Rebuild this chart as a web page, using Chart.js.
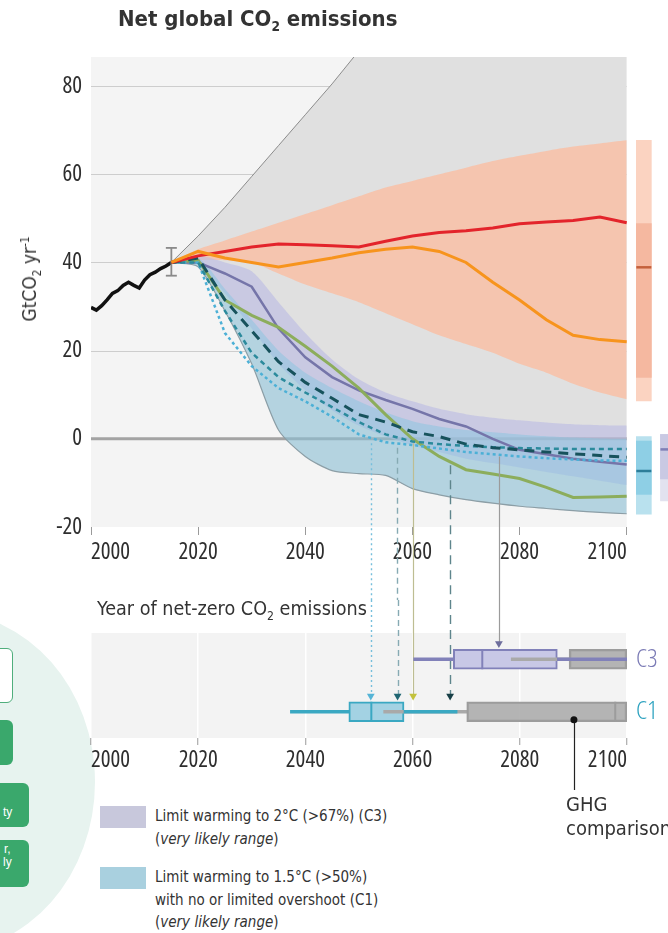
<!DOCTYPE html>
<html><head><meta charset="utf-8">
<script src="https://cdn.jsdelivr.net/npm/chart.js@4.4.0/dist/chart.umd.min.js"></script>
<style>
html,body{margin:0;padding:0;background:#fff;}
#wrap{position:relative;width:668px;height:933px;overflow:hidden;background:#fff;font-family:'DejaVu Sans Condensed','DejaVu Sans',sans-serif;color:#333;}
.abs{position:absolute;white-space:nowrap;}
sub,sup{font-size:62%;line-height:0;}
canvas{position:absolute;left:0;}
#cA{top:0;}
#cB{top:600px;}
.gbox{position:absolute;background:#3aa86c;border-radius:6px;color:#fff;font-size:12px;font-family:'Liberation Sans','DejaVu Sans',sans-serif;}
</style></head>
<body><div id="wrap">
<div class="abs" style="left:-205px;top:612px;width:300px;height:340px;border-radius:50%;background:#e7f3ef;"></div>
<div class="gbox" style="left:-10px;top:648px;width:21px;height:53px;background:#fff;border:1.5px solid #4fae7c;"></div>
<div class="gbox" style="left:-10px;top:720px;width:23px;height:45px;"></div>
<div class="gbox" style="left:-10px;top:783px;width:39px;height:44px;"><span class="abs" style="left:13px;top:22px;">ty</span></div>
<div class="gbox" style="left:-10px;top:840px;width:39px;height:47px;"><span class="abs" style="left:14px;top:2px;">r,</span><span class="abs" style="left:13px;top:15px;">ly</span></div>
<canvas id="cA" width="700" height="600"></canvas>
<canvas id="cB" width="700" height="200"></canvas>
<div class="abs" style="left:118px;top:6px;font-weight:bold;font-size:22px;color:#333;">Net global CO<sub>2</sub> emissions</div>
<div class="abs" style="left:29px;top:279px;transform:translate(-50%,-50%) rotate(-90deg);font-size:19px;">GtCO<sub>2</sub> yr<sup>-1</sup></div>
<div class="abs" style="left:97px;top:597px;font-size:19.6px;">Year of net-zero CO<sub>2</sub> emissions</div>
<div class="abs" style="left:566px;top:792px;font-size:20px;line-height:24px;">GHG<br>comparison</div>
<div class="abs" style="left:100px;top:806px;width:46px;height:22px;background:#c8c8dc;"></div>
<div class="abs" style="left:155px;top:805px;font-size:15px;line-height:22.5px;">Limit warming to 2°C (&gt;67%) (C3)<br>(<i>very likely range</i>)</div>
<div class="abs" style="left:100px;top:867px;width:46px;height:22px;background:#a9d0df;"></div>
<div class="abs" style="left:155px;top:866px;font-size:15px;line-height:22.5px;">Limit warming to 1.5°C (&gt;50%)<br>with no or limited overshoot (C1)<br>(<i>very likely range</i>)</div>
</div>
<script>
const FONT = "'Open Sans','DejaVu Sans Condensed',sans-serif";

// ---------- data: top panel ----------
const histYears = [2000,2001,2002,2003,2004,2005,2006,2007,2008,2009,2010,2011,2012,2013,2014,2015];
const histEmissions = [29.8,29.2,30.2,31.5,33.0,33.6,34.8,35.5,34.8,34.2,36.0,37.2,37.8,38.6,39.2,40.0];
const errorYear = 2015;
const errorRange = [37, 43.3];
const scenYears = [2015,2020,2025,2030,2035,2040,2045,2050,2055,2060,2065,2070,2075,2080,2085,2090,2095,2100];
const allScenariosHigh = [40,46,52.5,59.5,66.5,73.5,80.5,88,95,102,109,116,123,130,137,144,151,158];
const policiesHigh = [40,43,45,47,49,51,53,55,57,58.5,60,61.5,63,64.2,65.3,66.3,67,67.7];
const policiesLow = [40,40.5,40.5,40,37.5,35,33,31,28.5,26,23.5,21.5,19.5,17,15,12.5,10.5,9];
const policiesMedian = [40,41.5,42.5,43.5,44.2,44,43.8,43.5,44.8,46,46.8,47.2,47.8,48.8,49.2,49.5,50.3,49];
const moderatePath = [40,42.5,41,40,39,40,41,42.2,43,43.5,42.5,40,35.5,31.5,27,23.5,22.5,22];
const c3High = [40,41.5,40,38,31,24,18,13.5,10.5,8.5,6.8,5.6,4.8,4.2,3.7,3.3,3.1,3];
const c3Low = [40,39.5,33,25,17,11,6.5,3,0.5,-1.5,-3,-4.5,-5.5,-6.5,-7.5,-8.5,-9.5,-10.5];
const c3Median = [40,40,37.5,34.5,25,18.5,14,11,8.8,6.8,4.5,2.8,0,-2.5,-3.5,-4.5,-5.2,-5.8];
const c1High = [40,41,34,27,20,15,11.5,8.5,6,4,2.8,2,1.5,1,0.6,0.3,0.1,0];
const c1Low = [40,39,29,17,2,-4,-7.2,-7.9,-8.3,-11.3,-12.7,-13.8,-14.6,-15.3,-15.8,-16.3,-16.7,-17];
const greenPath = [40,40.5,31.5,28,25.3,21,16.5,11.5,5.5,0,-4,-7,-8,-9,-11,-13.3,-13.2,-13];
const longDashPath = [40,41,31.5,24.5,17.5,12.8,9.2,5.5,3.8,1.6,0.5,-1.2,-2,-2.5,-3,-3.4,-3.8,-4.2];
const shortDashPath = [40,40,29,19.5,14,10.5,7.2,3.8,1.0,-0.6,-1.2,-1.6,-1.9,-2.1,-2.2,-2.3,-2.3,-2.3];
const dottedPath = [40,40,24,16.5,11.5,8.5,5,1,-0.8,-1.4,-2.2,-3,-3.5,-4,-4.4,-4.7,-4.9,-5];
const policiesRange2100 = [8.6, 67.7];
const policiesCore2100 = [13.9, 48.8];
const policiesMedian2100 = 38.9;
const c1Range2100 = [-17.1, 0.5];
const c1Core2100 = [-12.6, -0.5];
const c1Median2100 = -7.3;
const c3Range2100 = [-14.1, 1.0];
const c3Core2100 = [-9.1, 1.0];
const c3Median2100 = -2.4;
const yTicks = [-20, 0, 20, 40, 60, 80];
const xTicks = [2000, 2020, 2040, 2060, 2080, 2100];

// ---------- data: net-zero panel ----------
const netZeroYears = [2052.2, 2057.2, 2060.1, 2067.0, 2076.1];
const netZeroRows = ['C1', 'C1', 'C1', 'C1', 'C3'];
const netZeroLineTop = [-1, -2, -1, -6, -4];
const c3Whisker = [2060.2, 2100];
const c3Box = [2067.6, 2087.0];
const c3BoxMedian = 2073.0;
const c3GhgWhisker = [2078.4, 2089.2];
const c3GhgBox = [2089.2, 2100];
const c1Whisker = [2037.2, 2068.3];
const c1Box = [2048.1, 2058.4];
const c1BoxMedian = 2052.3;
const c1GhgWhisker = [2054.6, 2070.1];
const c1GhgBox = [2070.1, 2100];
const c1GhgMedian = 2097.8;
const ghgMarkerYear = 2090.1;
const rowLabels = ['C1', 'C3'];

// ---------- layout / style constants ----------
const ROW = {C1: 1, C3: 3};
const MARK_OFFSET = 0.6;
const GHG_MARK_OFFSET = -0.3;
const SIDE_X = {policies: 2103.2, c1: 2103.2, c3: 2107.7};
const PX_PER_YEAR = (626.7 - 91) / 100;
const X_MAX_A = 2000 + (700 - 91) / PX_PER_YEAR;
const TICK_FONT = {family: FONT, size: 23, weight: 'condensed'};
const dropStyles = [
  {color:'#76bfdc', dash:[2,3], width:1.4},
  {color:'#86aab3', dash:[6,4], width:1.4},
  {color:'#bdbd92', dash:[], width:1.2},
  {color:'#5e858c', dash:[9,6], width:1.4},
  {color:'#9b9b9b', dash:[], width:1.2}
];
const markerColors = ['#55b4d6', '#1f6572', '#c3c23c', '#173f46', '#6d6d9c'];

const xy = (xs, ys) => ys.map((v, i) => ({x: xs[i], y: v}));
const lineDS = (data, color, width, order, extra) => Object.assign({
  type: 'line', data, borderColor: color, borderWidth: width, pointRadius: 0,
  fill: false, order, tension: 0
}, extra || {});

// ---------- chart A ----------
const panelA = {
  id: 'panelA',
  beforeDraw(chart) {
    const {ctx, chartArea: a, scales: {x, y}} = chart;
    const r = x.getPixelForValue(2100);
    ctx.save();
    ctx.fillStyle = '#f4f4f4';
    ctx.fillRect(a.left, a.top, r - a.left, a.bottom - a.top);
    ctx.strokeStyle = '#cdcdcd'; ctx.lineWidth = 1;
    yTicks.forEach(v => {
      if (v === yTicks[0] || v === 0) return;
      const py = Math.round(y.getPixelForValue(v)) + 0.5;
      ctx.beginPath(); ctx.moveTo(a.left, py); ctx.lineTo(r, py); ctx.stroke();
    });
    ctx.restore();
  },
  afterDatasetsDraw(chart) {
    const {ctx, scales: {x, y}} = chart;
    ctx.save();
    netZeroYears.forEach((yr, i) => {
      const s = dropStyles[i];
      const px = Math.round(x.getPixelForValue(yr)) + 0.5;
      ctx.strokeStyle = s.color; ctx.lineWidth = s.width; ctx.setLineDash(s.dash);
      ctx.beginPath(); ctx.moveTo(px, y.getPixelForValue(netZeroLineTop[i])); ctx.lineTo(px, chart.height); ctx.stroke();
    });
    ctx.restore();
  }
};

const dsA = [
  lineDS(xy(scenYears, allScenariosHigh), '#8c8c8c', 1, 60, {fill: '+1', backgroundColor: '#e0e0e0'}),
  lineDS(xy(scenYears, c1Low), 'rgba(0,0,0,0)', 0, 61, {tension: 0.25}),
  lineDS([{x: 2000, y: 0}, {x: 2100, y: 0}], '#a3a3a3', 3, 55),
  lineDS(xy(scenYears, policiesHigh), 'rgba(0,0,0,0)', 0, 50, {fill: '+1', backgroundColor: 'rgba(250,190,162,0.8)', tension: 0.25}),
  lineDS(xy(scenYears, policiesLow), 'rgba(0,0,0,0)', 0, 51, {tension: 0.25}),
  lineDS(xy(scenYears, c3High), 'rgba(0,0,0,0)', 0, 45, {fill: '+1', backgroundColor: 'rgba(188,188,228,0.62)', tension: 0.25}),
  lineDS(xy(scenYears, c3Low), 'rgba(0,0,0,0)', 0, 46, {tension: 0.25}),
  lineDS(xy(scenYears, c1High), 'rgba(0,0,0,0)', 0, 40, {fill: '+1', backgroundColor: 'rgba(135,198,224,0.5)', tension: 0.25}),
  lineDS(xy(scenYears, c1Low), '#8c9ea6', 1.2, 39, {tension: 0.25}),
  {type: 'bar', order: 20, grouped: false, barThickness: 15, borderWidth: 0,
    data: [{x: SIDE_X.policies, y: policiesRange2100}, {x: SIDE_X.c1, y: c1Range2100}, {x: SIDE_X.c3, y: c3Range2100}],
    backgroundColor: ['#fbd3c1', '#b9e1ee', '#e2e2ef']},
  {type: 'bar', order: 19, grouped: false, barThickness: 15, borderWidth: 0,
    data: [{x: SIDE_X.policies, y: policiesCore2100}, {x: SIDE_X.c1, y: c1Core2100}, {x: SIDE_X.c3, y: c3Core2100}],
    backgroundColor: ['#f5b8a0', '#8ecfe5', '#c9c9e3']},
  {type: 'scatter', order: 18, showLine: false,
    data: [{x: SIDE_X.policies, y: policiesMedian2100}, {x: SIDE_X.c1, y: c1Median2100}, {x: SIDE_X.c3, y: c3Median2100}],
    pointStyle: 'line', pointRadius: 7.5, pointBorderWidth: 2.5,
    pointBorderColor: ['#c4613c', '#2c7d99', '#7f7fb6'], borderColor: ['#c4613c', '#2c7d99', '#7f7fb6']},
  lineDS(xy(histYears, histEmissions), '#111', 3.5, 5),
  lineDS([{x: errorYear, y: errorRange[0]}, {x: errorYear, y: errorRange[1]}], '#8a8a8a', 1.8, 4,
    {pointStyle: 'line', pointRadius: 5.5, pointBorderWidth: 1.8, pointBorderColor: '#8a8a8a'}),
  lineDS(xy(scenYears, c3Median), '#7575a9', 2.5, 3),
  lineDS(xy(scenYears, greenPath), '#8cad5c', 3, 2.6),
  lineDS(xy(scenYears, dottedPath), '#4cb0d6', 2.5, 2.4, {borderDash: [3, 3]}),
  lineDS(xy(scenYears, shortDashPath), '#2b8a9c', 2.5, 2.3, {borderDash: [5, 4]}),
  lineDS(xy(scenYears, longDashPath), '#17525c', 3, 2.2, {borderDash: [10, 7]}),
  lineDS(xy(scenYears, policiesMedian), '#e3242b', 3, 1.5),
  lineDS(xy(scenYears, moderatePath), '#f7941d', 3, 1.2)
];

new Chart(document.getElementById('cA'), {
  type: 'line',
  data: {datasets: dsA},
  plugins: [panelA],
  options: {
    responsive: false, animation: false, devicePixelRatio: 1, events: [],
    layout: {autoPadding: false, padding: {top: 57, left: 0, right: 0, bottom: 0}},
    plugins: {legend: {display: false}, tooltip: {enabled: false}, title: {display: false}},
    scales: {
      x: {type: 'linear', min: 2000, max: X_MAX_A, offset: false,
        afterBuildTicks: s => { s.ticks = xTicks.map(v => ({value: v})); },
        afterFit: s => { s.height = 73; },
        grid: {display: true, offset: false, drawOnChartArea: false, drawTicks: true, tickLength: 8, tickColor: '#9a9a9a', lineWidth: 1},
        border: {display: false},
        ticks: {align: 'inner', autoSkip: false, maxRotation: 0, padding: 4, color: '#2e2e2e', font: TICK_FONT, callback: v => String(v)}
      },
      y: {type: 'linear', min: -20, max: 86.6, offset: false,
        afterBuildTicks: s => { s.ticks = yTicks.map(v => ({value: v})); },
        afterFit: s => { s.width = 91; },
        grid: {display: false, drawTicks: false},
        border: {display: false},
        ticks: {padding: 9, color: '#2e2e2e', font: TICK_FONT, callback: v => String(v)}
      }
    }
  }
});

// ---------- chart B ----------
const panelB = {
  id: 'panelB',
  beforeDraw(chart) {
    const {ctx, chartArea: a} = chart;
    ctx.save(); ctx.fillStyle = '#f3f3f3';
    ctx.fillRect(a.left, a.top, a.right - a.left, a.bottom - a.top);
    ctx.restore();
  },
  beforeDatasetsDraw(chart) {
    const {ctx, scales: {x, y}} = chart;
    ctx.save();
    netZeroYears.forEach((yr, i) => {
      const s = dropStyles[i];
      const px = Math.round(x.getPixelForValue(yr)) + 0.5;
      ctx.strokeStyle = s.color; ctx.lineWidth = s.width; ctx.setLineDash(s.dash);
      ctx.beginPath(); ctx.moveTo(px, 0); ctx.lineTo(px, y.getPixelForValue(ROW[netZeroRows[i]] + MARK_OFFSET)); ctx.stroke();
    });
    const gx = Math.round(x.getPixelForValue(ghgMarkerYear)) + 0.5;
    ctx.setLineDash([]); ctx.strokeStyle = '#222'; ctx.lineWidth = 1.2;
    ctx.beginPath(); ctx.moveTo(gx, y.getPixelForValue(ROW.C1 + GHG_MARK_OFFSET)); ctx.lineTo(gx, chart.height - 10); ctx.stroke();
    ctx.restore();
  }
};

const hbar = (lo, hi, row, fill, border, thick, order) => ({
  type: 'bar', indexAxis: 'y', grouped: false, order,
  data: [{x: [lo, hi], y: ROW[row]}],
  backgroundColor: fill, borderColor: border || fill, borderWidth: border ? 2 : 0,
  borderSkipped: false, barThickness: thick
});
const vtick = (xv, row, color, order) => ({
  type: 'scatter', order, showLine: false, data: [{x: xv, y: ROW[row]}],
  pointStyle: 'line', pointRotation: 90, pointRadius: 10, pointBorderWidth: 2,
  pointBorderColor: color, borderColor: color
});

const dsB = [
  hbar(c3Whisker[0], c3Box[0], 'C3', '#8181b9', null, 3, 20),
  hbar(c3Box[0], c3Box[1], 'C3', '#c8c8e6', '#8181b9', 20, 19),
  vtick(c3BoxMedian, 'C3', '#8181b9', 18),
  hbar(c3GhgWhisker[0], c3GhgWhisker[1], 'C3', '#a9a9a9', null, 3, 17),
  hbar(c3GhgBox[0], c3GhgBox[1], 'C3', 'rgba(168,168,168,0.85)', '#9c9c9c', 20, 16),
  hbar(c3Box[1], c3Whisker[1], 'C3', '#8181b9', null, 3, 15),
  hbar(c1Box[0], c1Box[1], 'C1', '#a3d2e3', '#3aa8c2', 20, 14),
  vtick(c1BoxMedian, 'C1', '#3aa8c2', 13),
  hbar(c1GhgWhisker[0], c1GhgWhisker[1], 'C1', '#a9a9a9', null, 3, 12),
  hbar(c1Whisker[0], c1Box[0], 'C1', '#3aa8c2', null, 3, 11),
  hbar(c1Box[1], c1Whisker[1], 'C1', '#3aa8c2', null, 3, 11),
  hbar(c1GhgBox[0], c1GhgBox[1], 'C1', 'rgba(168,168,168,0.85)', '#9c9c9c', 20, 10),
  vtick(c1GhgMedian, 'C1', '#9c9c9c', 9),
  {type: 'scatter', order: 2, showLine: false,
    data: netZeroYears.map((yr, i) => ({x: yr, y: ROW[netZeroRows[i]] + MARK_OFFSET})),
    pointStyle: 'triangle', pointRotation: 180, pointRadius: 4.5, pointBorderWidth: 0,
    pointBackgroundColor: markerColors, backgroundColor: markerColors},
  {type: 'scatter', order: 1, showLine: false, data: [{x: ghgMarkerYear, y: ROW.C1 + GHG_MARK_OFFSET}],
    pointRadius: 3.5, pointBorderWidth: 0, pointBackgroundColor: '#111', backgroundColor: '#111'}
];

new Chart(document.getElementById('cB'), {
  type: 'bar',
  data: {datasets: dsB},
  plugins: [panelB],
  options: {
    responsive: false, animation: false, devicePixelRatio: 1, events: [],
    layout: {autoPadding: false, padding: {top: 33, left: 91, right: 0, bottom: 0}},
    plugins: {legend: {display: false}, tooltip: {enabled: false}},
    scales: {
      x: {type: 'linear', min: 2000, max: 2100, offset: false,
        afterBuildTicks: s => { s.ticks = xTicks.map(v => ({value: v})); },
        afterFit: s => { s.height = 62; },
        grid: {display: true, offset: false, drawOnChartArea: true, color: '#ffffff', lineWidth: 1.5, drawTicks: true, tickLength: 7, tickColor: '#9a9a9a', tickWidth: 1},
        border: {display: false},
        ticks: {align: 'inner', autoSkip: false, maxRotation: 0, padding: 2, color: '#2e2e2e', font: TICK_FONT, callback: v => String(v)}
      },
      y: {type: 'linear', position: 'right', min: 0, max: 4, offset: false,
        afterBuildTicks: s => { s.ticks = rowLabels.map(l => ({value: ROW[l]})); },
        afterFit: s => { s.width = 73; },
        grid: {display: false, drawTicks: false, offset: false},
        border: {display: false},
        ticks: {padding: 9, font: {family: FONT, size: 26, weight: '300 semi-condensed'},
          callback: v => rowLabels.find(l => ROW[l] === v),
          color: c => (c.tick && c.tick.value === ROW.C3) ? '#7c7cb6' : '#2fa3c0'}
      }
    }
  }
});
</script>
</body></html>
